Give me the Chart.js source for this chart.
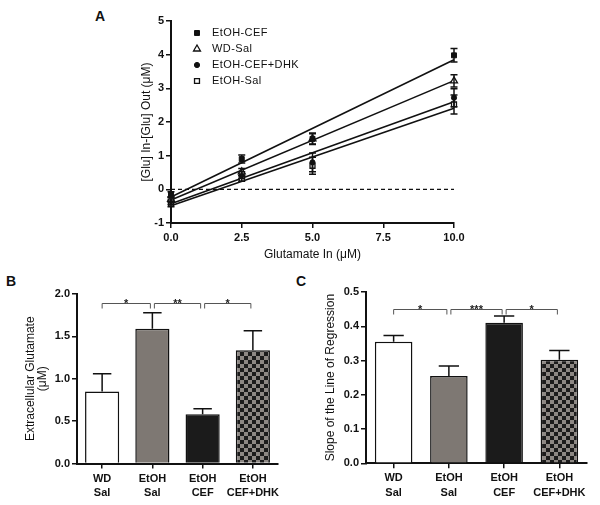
<!DOCTYPE html>
<html>
<head>
<meta charset="utf-8">
<script src="https://cdn.jsdelivr.net/npm/chart.js@4/dist/chart.umd.min.js"></script>
<style>
  body { margin: 0; width: 600px; height: 505px; background: #fff; position: relative; overflow: hidden;
         font-family: "Liberation Sans", Arial, sans-serif; }
  canvas, .panel { position: absolute; }
  .panel { font-size: 14px; font-weight: bold; color: #111; line-height: 16px; }
</style>
</head>
<body>
<div class="panel" style="left:95px;top:8px">A</div>
<div class="panel" style="left:6px;top:273px">B</div>
<div class="panel" style="left:296px;top:273px">C</div>
<canvas id="chartA" width="370" height="275" style="left:100px;top:0"></canvas>
<canvas id="chartB" width="290" height="225" style="left:0;top:280px"></canvas>
<canvas id="chartC" width="310" height="225" style="left:290px;top:280px"></canvas>

<script>
// ---- data ----
// panel A: uptake vs. glutamate in, means and SEM per group
const glutIn = [0, 2.5, 5, 10];
const groupNames = ['EtOH-CEF', 'WD-Sal', 'EtOH-CEF+DHK', 'EtOH-Sal'];
const cefMean = [-0.15, 0.9, 1.5, 3.98];
const cefSem  = [0.08, 0.12, 0.17, 0.2];
const wdMean  = [-0.3, 0.52, 1.5, 3.22];
const wdSem   = [0.08, 0.1, 0.15, 0.18];
const dhkMean = [-0.35, 0.42, 0.8, 2.72];
const dhkSem  = [0.1, 0.1, 0.28, 0.27];
const salMean = [-0.42, 0.32, 0.7, 2.52];
const salSem  = [0.1, 0.08, 0.25, 0.28];

// panels B and C
const barGroups  = [['WD', 'Sal'], ['EtOH', 'Sal'], ['EtOH', 'CEF'], ['EtOH', 'CEF+DHK']];
const extraMean  = [0.85, 1.59, 0.58, 1.335];
const extraSem   = [0.21, 0.19, 0.065, 0.23];
const slopeMean  = [0.355, 0.255, 0.41, 0.302];
const slopeSem   = [0.018, 0.029, 0.02, 0.027];
const extraSig   = [[0, 1, '*'], [1, 2, '**'], [2, 3, '*']];
const slopeSig   = [[0, 1, '*'], [1, 2, '***'], [2, 3, '*']];
const extraSigAt = 1.89;
const slopeSigAt = 0.45;

const FONT = '"Liberation Sans", Arial, sans-serif';
const INK = '#111';
Chart.defaults.font.family = FONT;
Chart.defaults.color = INK;

function fit(xs, ys) {
  const n = xs.length;
  const mx = xs.reduce((a, b) => a + b, 0) / n, my = ys.reduce((a, b) => a + b, 0) / n;
  let sxy = 0, sxx = 0;
  xs.forEach((x, i) => { sxy += (x - mx) * (ys[i] - my); sxx += (x - mx) * (x - mx); });
  const b = sxy / sxx;
  return { a: my - b * mx, b };
}

function checker() {
  const c = document.createElement('canvas');
  c.width = 8; c.height = 8;
  const g = c.getContext('2d');
  g.fillStyle = '#8d8884'; g.fillRect(0, 0, 8, 8);
  g.fillStyle = '#1c1c1c'; g.fillRect(0, 0, 4, 4); g.fillRect(4, 4, 4, 4);
  return g.createPattern(c, 'repeat');
}

// error bars: both directions for points, upward only for bars
const errorBars = {
  id: 'errorBars',
  afterDatasetsDraw(chart) {
    const ctx = chart.ctx, ys = chart.scales.y;
    ctx.save();
    ctx.strokeStyle = INK;
    ctx.lineWidth = 1.5;
    chart.data.datasets.forEach((ds, di) => {
      if (!ds.errors) return;
      const meta = chart.getDatasetMeta(di);
      meta.data.forEach((el, i) => {
        const v = typeof ds.data[i] === 'object' ? ds.data[i].y : ds.data[i];
        const e = ds.errors[i];
        const x = el.x;
        const top = ys.getPixelForValue(v + e);
        const bot = ds.upOnly ? ys.getPixelForValue(v) : ys.getPixelForValue(v - e);
        const cap = ds.upOnly ? el.width * 0.27 : 3.5;
        ctx.beginPath();
        ctx.moveTo(x, bot); ctx.lineTo(x, top);
        ctx.moveTo(x - cap, top); ctx.lineTo(x + cap, top);
        if (!ds.upOnly) { ctx.moveTo(x - cap, bot); ctx.lineTo(x + cap, bot); }
        ctx.stroke();
      });
    });
    ctx.restore();
  }
};

const zeroLine = {
  id: 'zeroLine',
  beforeDatasetsDraw(chart) {
    const { ctx, scales: { x, y } } = chart;
    const py = y.getPixelForValue(0);
    ctx.save();
    ctx.strokeStyle = INK; ctx.lineWidth = 1.3; ctx.setLineDash([4, 3]);
    ctx.beginPath(); ctx.moveTo(x.getPixelForValue(x.min), py); ctx.lineTo(x.getPixelForValue(x.max), py); ctx.stroke();
    ctx.restore();
  }
};

const insetLegend = {
  id: 'insetLegend',
  afterDraw(chart, args, opts) {
    const { ctx, chartArea } = chart;
    const px = chartArea.left + opts.left;
    let py = chartArea.top + opts.top;
    ctx.save();
    ctx.font = '11px ' + FONT;
    ctx.textBaseline = 'middle';
    if ('letterSpacing' in ctx) ctx.letterSpacing = '0.4px';
    chart.data.datasets.filter(d => d.errors).forEach(ds => {
      ctx.fillStyle = ds.pointBackgroundColor;
      ctx.strokeStyle = ds.pointBorderColor;
      ctx.lineWidth = ds.pointBorderWidth;
      Chart.helpers.drawPoint(ctx, { pointStyle: ds.pointStyle, radius: ds.pointRadius, rotation: 0,
        borderWidth: ds.pointBorderWidth }, px, py);
      ctx.fillStyle = INK;
      ctx.fillText(ds.label, px + opts.gap, py);
      py += opts.row;
    });
    ctx.restore();
  }
};

const sigBrackets = {
  id: 'sigBrackets',
  afterDatasetsDraw(chart, args, opts) {
    const { ctx, scales: { x, y } } = chart;
    const py = Math.round(y.getPixelForValue(opts.level)) + 0.5;
    ctx.save();
    ctx.strokeStyle = '#555'; ctx.lineWidth = 1;
    ctx.fillStyle = '#222'; ctx.font = 'bold 11px ' + FONT;
    ctx.textAlign = 'center'; ctx.textBaseline = 'alphabetic';
    opts.pairs.forEach(([i, j, label]) => {
      const x1 = x.getPixelForValue(i) + (i ? 2 : 0), x2 = x.getPixelForValue(j) - 2;
      ctx.beginPath();
      ctx.moveTo(x1, py + 5); ctx.lineTo(x1, py); ctx.lineTo(x2, py); ctx.lineTo(x2, py + 5);
      ctx.stroke();
      ctx.fillText(label, (x1 + x2) / 2, py + 3);
    });
    ctx.restore();
  }
};

function axis(extra) {
  return Object.assign({
    border: { color: INK, width: 2 },
    grid: { drawOnChartArea: false, drawTicks: true, tickLength: 5, color: INK, lineWidth: 1.5, offset: false },
  }, extra);
}

// ---- panel A ----
const groups = [
  { mean: cefMean, sem: cefSem, style: 'rect', r: 3.5, fill: INK, bw: 1 },
  { mean: wdMean, sem: wdSem, style: 'triangle', r: 4, fill: '#fff', bw: 1.3 },
  { mean: dhkMean, sem: dhkSem, style: 'circle', r: 2.6, fill: INK, bw: 1 },
  { mean: salMean, sem: salSem, style: 'rect', r: 3.5, fill: '#fff', bw: 1.3 },
];
const datasetsA = [];
groups.forEach((g, k) => {
  datasetsA.push({
    label: groupNames[k], type: 'scatter', order: 0, clip: false,
    data: glutIn.map((x, i) => ({ x, y: g.mean[i] })),
    errors: g.sem,
    pointStyle: g.style, pointRadius: g.r, pointBackgroundColor: g.fill,
    pointBorderColor: INK, pointBorderWidth: g.bw,
  });
});
groups.forEach((g, k) => {
  const { a, b } = fit(glutIn, g.mean);
  const x0 = glutIn[0], x1 = glutIn[glutIn.length - 1];
  datasetsA.push({
    label: groupNames[k] + ' fit', type: 'line', order: 1, clip: false,
    data: [{ x: x0, y: a + b * x0 }, { x: x1, y: a + b * x1 }],
    borderColor: INK, borderWidth: 1.6, pointRadius: 0, fill: false,
  });
});

new Chart(document.getElementById('chartA'), {
  type: 'scatter',
  data: { datasets: datasetsA },
  plugins: [zeroLine, errorBars, insetLegend],
  options: {
    responsive: false, animation: false, devicePixelRatio: 1,
    layout: { padding: { top: 21, right: 16, left: 0, bottom: 0 } },
    plugins: {
      legend: { display: false }, tooltip: { enabled: false },
      insetLegend: { left: 26, top: 12, gap: 15, row: 16 },
    },
    scales: {
      x: axis({
        type: 'linear', min: 0, max: 10,
        ticks: { stepSize: 2.5, padding: 3, font: { size: 11, weight: 'bold' }, callback: v => v.toFixed(1) },
        afterFit: s => { s.height = 52; },
        title: { display: true, text: 'Glutamate In (μM)', font: { size: 12 }, padding: { top: 0, bottom: 13 } },
      }),
      y: axis({
        min: -1, max: 5,
        ticks: { stepSize: 1, padding: 2, font: { size: 11, weight: 'bold' } },
        afterFit: s => { s.width = 71; },
        title: { display: true, text: '[Glu] In-[Glu] Out (μM)', font: { size: 12 }, padding: { top: 39, bottom: 0 } },
      }),
    },
  },
});

// ---- panels B and C ----
function barChart(id, values, errs, sig, sigAt, yMax, step, yTitle, pad, yWidth, xHeight, titlePad) {
  return new Chart(document.getElementById(id), {
    type: 'bar',
    data: {
      labels: barGroups,
      datasets: [{
        data: values, errors: errs, upOnly: true,
        backgroundColor: ['#ffffff', '#7e7873', '#1b1b1b', checker()],
        borderColor: INK, borderWidth: 1.5,
        barPercentage: 0.68, categoryPercentage: 1,
      }],
    },
    plugins: [errorBars, sigBrackets],
    options: {
      responsive: false, animation: false, devicePixelRatio: 1,
      layout: { padding: pad },
      plugins: {
        legend: { display: false }, tooltip: { enabled: false },
        sigBrackets: { pairs: sig, level: sigAt },
      },
      scales: {
        x: axis({
          ticks: { padding: 3, autoSkip: false, maxRotation: 0, minRotation: 0,
                   font: { size: 11, weight: 'bold', lineHeight: 1.3 } },
          afterFit: s => { s.height = xHeight; },
        }),
        y: axis({
          min: 0, max: yMax,
          ticks: { stepSize: step, padding: 2, font: { size: 11, weight: 'bold' }, callback: v => v.toFixed(1) },
          afterFit: s => { s.width = yWidth; },
          title: { display: true, text: yTitle, font: { size: 12, lineHeight: 1.0 }, padding: { top: titlePad, bottom: 0 } },
        }),
      },
    },
  });
}

barChart('chartB', extraMean, extraSem, extraSig, extraSigAt, 2, 0.5,
  ['Extracellular Glutamate', '(μM)'], { top: 14, right: 12, left: 0, bottom: 0 }, 77, 41.5, 25);
barChart('chartC', slopeMean, slopeSem, slopeSig, slopeSigAt, 0.5, 0.1,
  'Slope of the Line of Regression', { top: 12, right: 13, left: 0, bottom: 0 }, 76, 41.7, 35);
</script>
</body>
</html>
